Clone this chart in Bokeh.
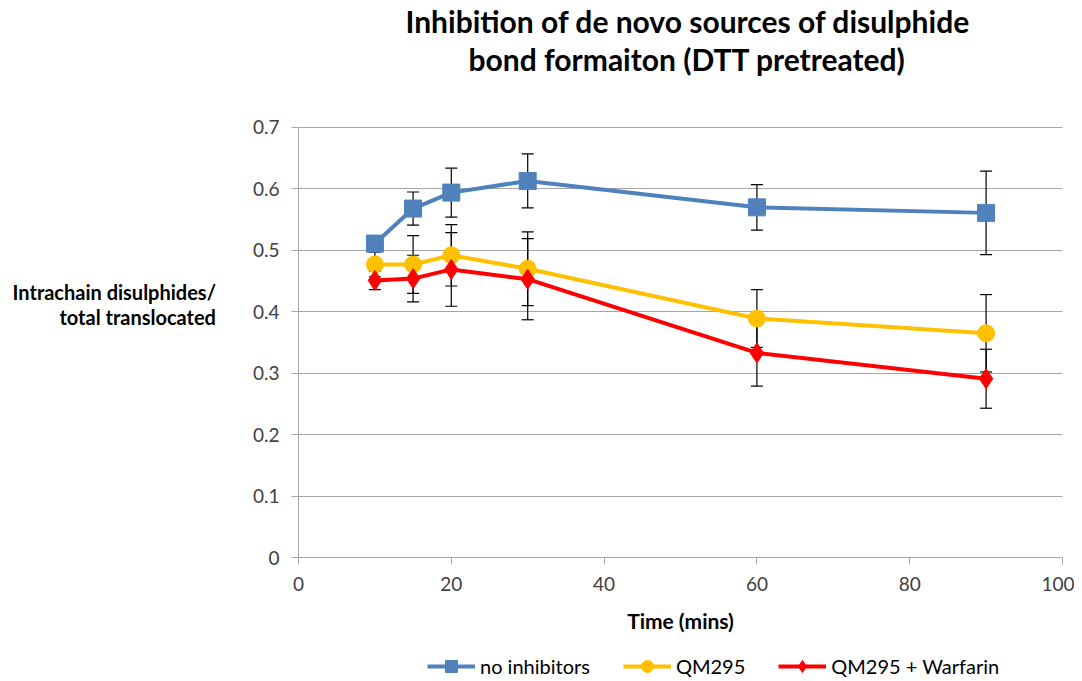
from bokeh.plotting import figure
from bokeh.layouts import column
from bokeh.models import (ColumnDataSource, Whisker, TeeHead, Legend, LegendItem, Title,
                          NumeralTickFormatter, FixedTicker, Range1d)
from bokeh.embed import file_html
from bokeh.resources import INLINE

time = [10, 15, 20, 30, 60, 90]
no_inhib = [0.511, 0.568, 0.594, 0.613, 0.570, 0.561]
no_inhib_err = [0.010, 0.027, 0.040, 0.044, 0.037, 0.068]
qm295 = [0.477, 0.477, 0.492, 0.470, 0.389, 0.365]
qm295_err = [0.020, 0.047, 0.050, 0.060, 0.047, 0.063]
qm_warf = [0.451, 0.454, 0.469, 0.453, 0.333, 0.291]
qm_warf_err = [0.015, 0.038, 0.060, 0.066, 0.054, 0.048]

series_names = ["no inhibitors", "QM295", "QM295 + Warfarin"]
colors = ["#4F81BD", "#FFC000", "#FF0000"]
markers = ["square", "circle", "diamond"]
sizes = [17, 17, 20]

x_ticks = [0, 20, 40, 60, 80, 100]
y_ticks = [0, 0.1, 0.2, 0.3, 0.4, 0.5, 0.6, 0.7]

title_lines = ["Inhibition of de novo sources of disulphide", "bond formaiton (DTT pretreated)"]

FONT = "Lato"

# main chart; the frame reaches a little above 0.7 so the two title lines sit high
p = figure(width=1074, height=640, output_backend="svg", toolbar_location=None,
           x_range=Range1d(0, 100), y_range=Range1d(0, 0.783),
           min_border_left=298, min_border_right=12, min_border_top=76,
           min_border_bottom=83)
p.outline_line_color = None
p.background_fill_color = "white"
p.border_fill_color = "white"

t2 = Title(text=title_lines[1], align="left", offset=170, text_font=FONT, text_font_style="bold",
           text_font_size="30px", text_color="#000000", standoff=0)
t1 = Title(text=title_lines[0], align="left", offset=107, text_font=FONT, text_font_style="bold",
           text_font_size="30px", text_color="#000000", standoff=0)
p.add_layout(t2, "above")
p.add_layout(t1, "above")

p.xgrid.grid_line_color = None
p.ygrid.grid_line_color = "#A6A6A6"
p.ygrid.grid_line_width = 1

for ax in (p.xaxis, p.yaxis):
    ax.axis_line_color = "#A6A6A6"
    ax.major_tick_line_color = "#A6A6A6"
    ax.minor_tick_line_color = None
    ax.major_tick_in = 0
    ax.major_tick_out = 7
    ax.major_label_text_font = FONT
    ax.major_label_text_font_size = "19px"
    ax.major_label_text_color = "#404040"
    ax.major_label_standoff = 12

p.yaxis.bounds = (0, 0.7)
p.xaxis.ticker = FixedTicker(ticks=x_ticks)
p.yaxis.ticker = FixedTicker(ticks=y_ticks)
p.yaxis.formatter = NumeralTickFormatter(format="0.[0]")
p.xaxis.axis_label = "Time (mins)"
p.xaxis.axis_label_text_font = FONT
p.xaxis.axis_label_text_font_style = "bold"
p.xaxis.axis_label_text_font_size = "21px"
p.xaxis.axis_label_text_color = "#000000"
p.xaxis.axis_label_standoff = 14

p.yaxis.axis_label = "Intrachain disulphides/\ntotal translocated\n"
p.yaxis.axis_label_orientation = "horizontal"
p.yaxis.axis_label_text_font = FONT
p.yaxis.axis_label_text_font_style = "bold"
p.yaxis.axis_label_text_font_size = "20px"
p.yaxis.axis_label_text_color = "#000000"
p.yaxis.axis_label_text_line_height = 1.04
p.yaxis.axis_label_standoff = 34

all_vals = [no_inhib, qm295, qm_warf]
all_errs = [no_inhib_err, qm295_err, qm_warf_err]

# legend strip underneath (its frame is aligned with the main frame by the column)
lf = figure(width=1074, height=41, output_backend="svg", toolbar_location=None,
            x_range=Range1d(-200, -100), y_range=Range1d(-200, -100),
            x_axis_location=None, y_axis_location=None, min_border=0)
lf.outline_line_color = None
lf.xgrid.grid_line_color = None
lf.ygrid.grid_line_color = None
lf.background_fill_color = "white"
lf.border_fill_color = "white"

items = []
for name, vals, errs, col, mk, sz in zip(series_names, all_vals, all_errs, colors, markers, sizes):
    src = ColumnDataSource(dict(x=time, y=vals,
                                lo=[v - e for v, e in zip(vals, errs)],
                                hi=[v + e for v, e in zip(vals, errs)]))
    w = Whisker(source=src, base="x", upper="hi", lower="lo", line_color="black", line_width=1.2,
                upper_head=TeeHead(size=12, line_color="black", line_width=1.2),
                lower_head=TeeHead(size=12, line_color="black", line_width=1.2))
    p.add_layout(w)
    p.line("x", "y", source=src, line_color=col, line_width=4)
    p.scatter("x", "y", source=src, marker=mk, size=sz, fill_color=col, line_color=col)
    # same series in the legend strip (outside its visible range), used for legend glyphs
    l1 = lf.line("x", "y", source=src, line_color=col, line_width=4)
    l2 = lf.scatter("x", "y", source=src, marker=mk, size=sz, fill_color=col, line_color=col)
    items.append(LegendItem(label=name, renderers=[l1, l2]))

legend = Legend(items=items, orientation="horizontal", location=(129, 0),
                label_text_font=FONT, label_text_font_size="20px", label_text_color="#000000",
                glyph_width=48, glyph_height=30, spacing=33, border_line_color=None,
                background_fill_alpha=0, label_standoff=5, padding=0, margin=0)
lf.add_layout(legend, "center")

layout = column(p, lf, spacing=0)
open("out.html", "w").write(file_html(layout, INLINE))
